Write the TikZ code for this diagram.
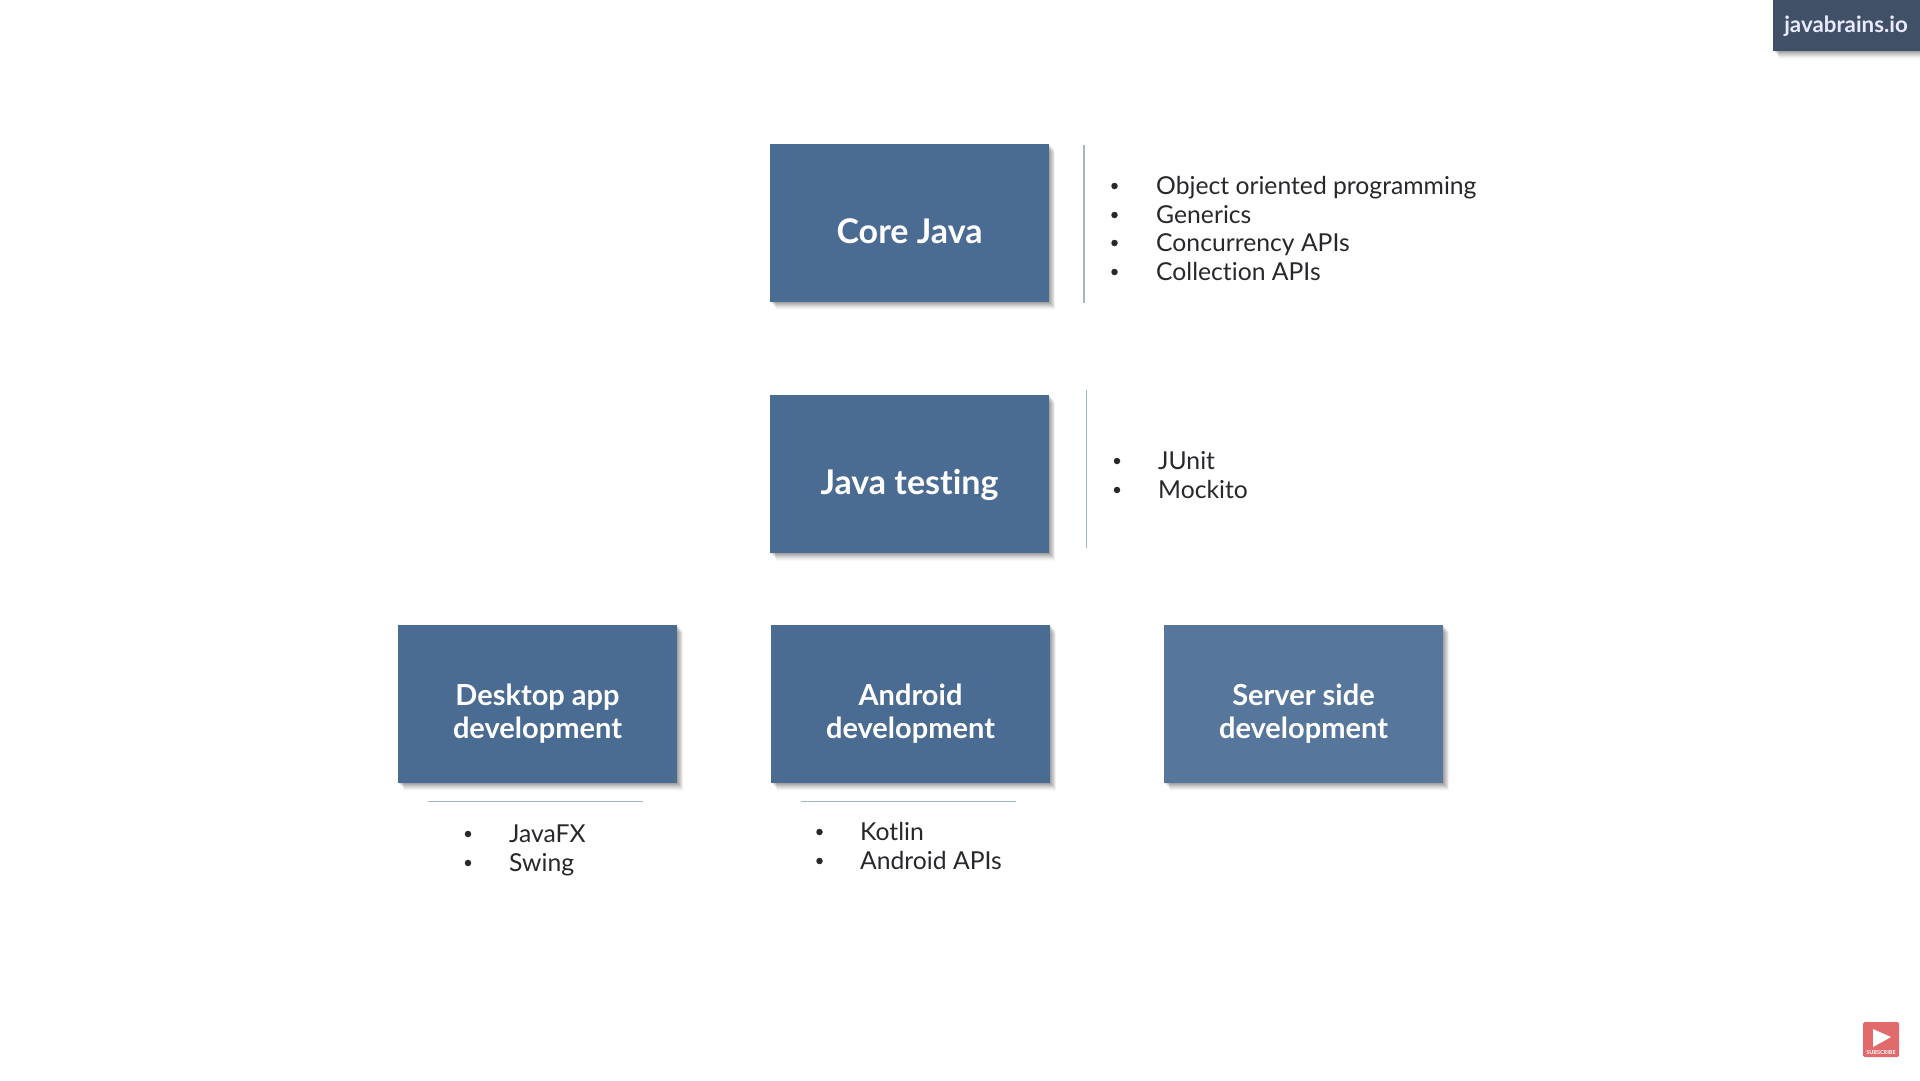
\documentclass[tikz,border=0pt]{standalone}
\usepackage{fontspec}
\setmainfont[Ligatures=NoCommon]{Lato}
\usetikzlibrary{shadows}
\definecolor{boxblue}{HTML}{4A6B92}
\definecolor{boxlight}{HTML}{56779B}
\definecolor{rulecol}{HTML}{9FB6C8}
\definecolor{tagcol}{HTML}{3F5067}
\definecolor{subred}{HTML}{E06A6C}
\definecolor{inkcol}{HTML}{26282B}
\tikzset{
  softshadow/.style={
    general shadow={shadow xshift=1pt,shadow yshift=-1pt,fill=black,opacity=.08},
    general shadow={shadow xshift=2pt,shadow yshift=-2pt,fill=black,opacity=.08},
    general shadow={shadow xshift=3pt,shadow yshift=-3pt,fill=black,opacity=.07},
    general shadow={shadow xshift=4pt,shadow yshift=-4pt,fill=black,opacity=.06},
    general shadow={shadow xshift=5pt,shadow yshift=-5pt,fill=black,opacity=.05},
    general shadow={shadow xshift=5pt,shadow yshift=-6pt,fill=black,opacity=.04},
    general shadow={shadow xshift=6pt,shadow yshift=-7pt,fill=black,opacity=.03},
    general shadow={shadow xshift=6pt,shadow yshift=-8pt,fill=black,opacity=.02}},
  card/.style={softshadow,fill=boxblue,minimum width=279pt,minimum height=158pt,inner sep=0pt,anchor=center},
  cardtext/.style={text=white,font=\fontsize{29}{33}\selectfont\bfseries,align=center,inner sep=0pt,anchor=center},
  bigtext/.style={cardtext,font=\fontsize{34}{38}\selectfont\bfseries},
  item/.style={text=inkcol,font=\fontsize{24.7}{29}\selectfont,inner sep=0pt,anchor=base west},
  dot/.style={circle,fill=inkcol,minimum size=6.5pt,inner sep=0pt},
  sep/.style={draw=rulecol,line width=1.6pt}
}
\begin{document}
\begin{tikzpicture}[x=1pt,y=-1pt]
\useasboundingbox (0,0) rectangle (1920,1080);
\fill[white] (0,0) rectangle (1920,1080);

% corner tag
\node[softshadow,fill=tagcol,minimum width=147pt,minimum height=51pt,inner sep=0pt] (tag) at (1846.5,25.5) {};
\node[text=white!92!blue,font=\fontsize{22.3}{26}\selectfont\bfseries,inner sep=0pt] (tagtext) at (1846,26) {javabrains.io};

% cards
\node[card] (core) at (909.5,222.5) {};
\node[bigtext] (coret) at (909.5,231) {Core Java};
\node[card] (test) at (909.5,474) {};
\node[bigtext] (testt) at (909.5,485) {Java testing};
\node[card] (desk) at (537.5,704) {};
\node[cardtext] (deskt) at (537.5,713.5) {Desktop app\\development};
\node[card] (andr) at (910.5,704) {};
\node[cardtext] (andrt) at (910.5,713.5) {Android\\development};
\node[card,fill=boxlight] (serv) at (1303.5,704) {};
\node[cardtext] (servt) at (1303.5,713.5) {Server side\\development};

% separators
\coordinate (c1) at (1084,144.5); \coordinate (c2) at (1084,302.5);
\draw[sep] (c1) -- (c2);
\coordinate (t1) at (1086.5,390); \coordinate (t2) at (1086.5,548);
\draw[sep] (t1) -- (t2);
\coordinate (d1) at (428,801.5); \coordinate (d2) at (643,801.5);
\draw[sep] (d1) -- (d2);
\coordinate (a1) at (801,801.5); \coordinate (a2) at (1016,801.5);
\draw[sep] (a1) -- (a2);

% Core Java list
\node[dot] (b1) at (1114.5,186) {}; \node[item] (i1) at (1156,194) {Object oriented programming};
\node[dot] (b2) at (1114.5,215) {}; \node[item] (i2) at (1156,223) {Generics};
\node[dot] (b3) at (1114.5,243) {}; \node[item] (i3) at (1156,251.5) {Concurrency APIs};
\node[dot] (b4) at (1114.5,272) {}; \node[item] (i4) at (1156,280) {Collection APIs};

% Java testing list
\node[dot] (b5) at (1117,461) {}; \node[item] (i5) at (1158,469) {JUnit};
\node[dot] (b6) at (1117,490) {}; \node[item] (i6) at (1158,498) {Mockito};

% Desktop list
\node[dot] (b7) at (468,834) {}; \node[item] (i7) at (509,842) {JavaFX};
\node[dot] (b8) at (468,863) {}; \node[item] (i8) at (509,871) {Swing};

% Android list
\node[dot] (b9) at (819.5,832) {}; \node[item] (i9) at (860,840) {Kotlin};
\node[dot] (b10) at (819.5,861) {}; \node[item] (i10) at (860,869) {Android APIs};

% subscribe badge
\node[fill=subred,rounded corners=1.5pt,minimum width=36pt,minimum height=35pt,inner sep=0pt] (sub) at (1881,1039.5) {};
\fill[white] (1873,1029) -- (1891,1037) -- (1873,1047) -- cycle;
\node[text=white,font=\fontsize{5.5}{6}\selectfont\bfseries,inner sep=0pt] (subt) at (1881,1052.5) {SUBSCRIBE};
\end{tikzpicture}
\end{document}
